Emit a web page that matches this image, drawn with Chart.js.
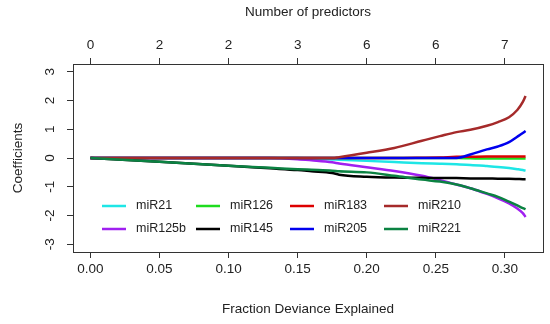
<!DOCTYPE html>
<html>
<head>
<meta charset="utf-8">
<script src="https://cdn.jsdelivr.net/npm/chart.js@4.4.1/dist/chart.umd.min.js"></script>
<style>
html, body { margin: 0; padding: 0; background: #fff; }
#wrap { width: 550px; height: 324px; }
</style>
</head>
<body>
<div id="wrap"><canvas id="c" width="550" height="324"></canvas></div>
<script>
// fraction of deviance explained along the path
const fde = [0, 0.05, 0.10, 0.13, 0.15, 0.16, 0.175, 0.18, 0.20, 0.22, 0.24, 0.253, 0.265, 0.275, 0.287, 0.295, 0.303, 0.309, 0.313, 0.315];

const xTicks = [0, 0.05, 0.10, 0.15, 0.20, 0.25, 0.30];
const dfLabels = ['0', '2', '2', '3', '6', '6', '7'];
const yTicks = [-3, -2, -1, 0, 1, 2, 3];

// coefficients for each miRNA
const miR21   = [0, 0, 0, 0, 0, -0.02, -0.05, -0.06, -0.10, -0.14, -0.18, -0.20, -0.22, -0.24, -0.28, -0.31, -0.35, -0.39, -0.42, -0.44];
const miR125b = [0, 0, 0, 0, -0.04, -0.08, -0.15, -0.19, -0.32, -0.45, -0.62, -0.77, -0.92, -1.05, -1.25, -1.40, -1.58, -1.76, -1.92, -2.05];
const miR126  = [0, 0, 0, 0, 0, 0, 0, 0, 0, 0, 0, 0, 0, -0.01, -0.02, -0.02, -0.02, -0.02, -0.02, -0.02];
const miR145  = [0, -0.13, -0.27, -0.36, -0.42, -0.46, -0.52, -0.58, -0.65, -0.68, -0.69, -0.70, -0.70, -0.71, -0.71, -0.72, -0.72, -0.73, -0.74, -0.74];
const miR183  = [0, 0, 0, 0, 0, 0, 0, 0, 0, 0, 0.01, 0.02, 0.04, 0.045, 0.05, 0.05, 0.05, 0.05, 0.05, 0.05];
const miR205  = [0, 0, 0, 0, 0, 0, 0, 0, 0, 0, 0, 0, 0, 0.12, 0.30, 0.40, 0.55, 0.74, 0.87, 0.94];
const miR210  = [0, 0, 0, 0, 0, 0, 0, 0.03, 0.18, 0.35, 0.60, 0.76, 0.90, 0.98, 1.12, 1.25, 1.42, 1.67, 1.95, 2.16];
const miR221  = [0, -0.13, -0.27, -0.34, -0.39, -0.41, -0.44, -0.46, -0.50, -0.62, -0.75, -0.82, -0.92, -1.05, -1.23, -1.35, -1.52, -1.65, -1.74, -1.78];

const names  = ['miR21', 'miR125b', 'miR126', 'miR145', 'miR183', 'miR205', 'miR210', 'miR221'];
const series = [miR21, miR125b, miR126, miR145, miR183, miR205, miR210, miR221];
const colors = ['#1ee6e6', '#a020f0', '#1edc1e', '#000000', '#dd0000', '#0000ee', '#a52a2a', '#0b8242'];

const FONT = 'Liberation Sans, Arial, sans-serif';

// box round the plot + y tick labels (R style, vertical)
const frame = {
    id: 'frame',
    afterDraw(chart) {
        const ctx = chart.ctx;
        const a = chart.chartArea;
        ctx.save();
        ctx.strokeStyle = '#333';
        ctx.lineWidth = 1;
        ctx.strokeRect(Math.round(a.left) + 0.5, Math.round(a.top) + 0.5,
            Math.round(a.right - a.left), Math.round(a.bottom - a.top));
        const y = chart.scales.y;
        ctx.fillStyle = '#222';
        ctx.font = '13.5px ' + FONT;
        ctx.textAlign = 'center';
        ctx.textBaseline = 'middle';
        yTicks.forEach(v => {
            ctx.save();
            ctx.translate(50, y.getPixelForValue(v));
            ctx.rotate(-Math.PI / 2);
            ctx.fillText(String(v), 0, 0);
            ctx.restore();
        });
        ctx.restore();
    }
};

// legend inside the plot, 2 rows x 4 columns
const legendBox = {
    id: 'legendBox',
    afterDatasetsDraw(chart) {
        const ctx = chart.ctx;
        const colX = [102, 196, 290, 384];
        const rowY = [206, 229];
        ctx.save();
        ctx.font = '12.5px ' + FONT;
        ctx.textBaseline = 'middle';
        ctx.textAlign = 'left';
        names.forEach((n, i) => {
            const col = Math.floor(i / 2), row = i % 2;
            const x = colX[col], yy = rowY[row];
            ctx.strokeStyle = colors[i];
            ctx.lineWidth = 2.5;
            ctx.beginPath();
            ctx.moveTo(x, yy);
            ctx.lineTo(x + 24, yy);
            ctx.stroke();
            ctx.fillStyle = '#222';
            ctx.fillText(n, x + 34, yy);
        });
        ctx.restore();
    }
};

const datasets = names.map((n, i) => ({
    label: n,
    data: fde.map((f, j) => ({ x: f, y: series[i][j] })),
    borderColor: colors[i],
    backgroundColor: colors[i],
    borderWidth: 2.5,
    pointRadius: 0,
    cubicInterpolationMode: 'monotone',
    order: names.length - i
}));

const setTicks = vals => scale => { scale.ticks = vals.map(v => ({ value: v })); };

const chart = new Chart(document.getElementById('c').getContext('2d'), {
    type: 'line',
    data: { datasets: datasets },
    options: {
        responsive: false,
        animation: false,
        devicePixelRatio: 1,
        layout: { padding: { left: 0, right: 7, top: 0, bottom: 0 } },
        plugins: { legend: { display: false }, tooltip: { enabled: false } },
        scales: {
            x: {
                type: 'linear',
                position: 'bottom',
                min: -0.0126,
                max: 0.3276,
                afterBuildTicks: setTicks(xTicks),
                afterFit: s => { s.height = 72; },
                border: { display: false },
                grid: { drawOnChartArea: false, drawTicks: true, tickLength: 6, color: '#333' },
                ticks: {
                    autoSkip: false, maxRotation: 0, padding: 3, color: '#222',
                    font: { family: FONT, size: 13.5 },
                    callback: v => v.toFixed(2)
                },
                title: {
                    display: true, text: 'Fraction Deviance Explained', color: '#222',
                    font: { family: FONT, size: 13.5 }, padding: { top: 0, bottom: 7 }
                }
            },
            x2: {
                type: 'linear',
                position: 'top',
                min: -0.0126,
                max: 0.3276,
                afterBuildTicks: setTicks(xTicks),
                afterFit: s => { s.height = 64; },
                border: { display: false },
                grid: { drawOnChartArea: false, drawTicks: true, tickLength: 6, color: '#333' },
                ticks: {
                    autoSkip: false, maxRotation: 0, padding: 5, color: '#222',
                    font: { family: FONT, size: 13.5 },
                    callback: (v, i) => dfLabels[i]
                },
                title: {
                    display: true, text: 'Number of predictors', color: '#222',
                    font: { family: FONT, size: 13.5 }, padding: { top: 4, bottom: 0 }
                }
            },
            y: {
                type: 'linear',
                position: 'left',
                min: -3.27,
                max: 3.27,
                afterBuildTicks: setTicks(yTicks),
                afterFit: s => { s.width = 73; },
                border: { display: false },
                grid: { drawOnChartArea: false, drawTicks: true, tickLength: 6, color: '#333' },
                ticks: { display: false },
                title: {
                    display: true, text: 'Coefficients', color: '#222',
                    font: { family: FONT, size: 13.5 }, padding: { top: 10, bottom: 0 }
                }
            }
        }
    },
    plugins: [legendBox, frame]
});
</script>
</body>
</html>
